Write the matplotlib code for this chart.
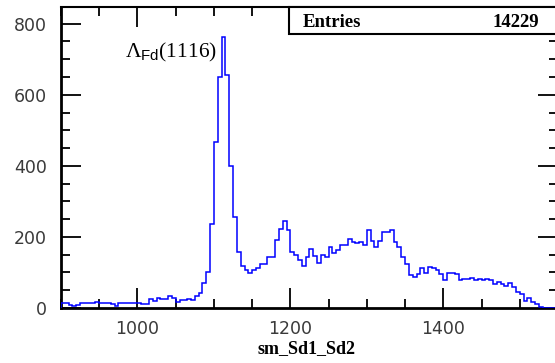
import numpy as np
import matplotlib
matplotlib.use("Agg")
import matplotlib.pyplot as plt
from matplotlib.patches import Rectangle
from matplotlib.ticker import MultipleLocator

# histogram: 130 bins of width 5 from 900 to 1550
bin_lo = 900
bin_w = 5
counts = [
    14, 15, 8, 7, 8, 15, 15, 15, 15, 17,
    15, 14, 15, 11, 7, 13, 13, 15, 15, 15,
    15, 10, 10, 26, 21, 29, 26, 26, 33, 28,
    18, 23, 23, 25, 23, 34, 43, 69, 100, 237,
    466, 650, 762, 656, 400, 255, 157, 118, 108, 99,
    106, 113, 125, 125, 144, 144, 192, 222, 244, 219,
    158, 150, 134, 117, 144, 166, 147, 128, 150, 144,
    172, 155, 162, 178, 178, 195, 185, 183, 185, 178,
    220, 188, 173, 188, 214, 214, 220, 185, 171, 144,
    125, 94, 86, 96, 113, 99, 115, 113, 108, 97,
    78, 99, 99, 96, 80, 83, 83, 85, 78, 81,
    78, 81, 78, 68, 73, 68, 61, 70, 58, 45,
    40, 21, 28, 18, 10, 3, 0, 0, 0, 0,
]
x_ticks = [1000, 1200, 1400]
y_ticks = [0, 200, 400, 600, 800]
entries = 14229
xlabel = "sm_Sd1_Sd2"

edges = bin_lo + bin_w * np.arange(len(counts) + 1)

plt.rcParams['mathtext.fontset'] = 'custom'
plt.rcParams['mathtext.rm'] = 'Liberation Serif'
plt.rcParams['mathtext.sf'] = 'Liberation Sans'
plt.rcParams['mathtext.it'] = 'Liberation Serif:italic'

W, H = 555, 363
fig = plt.figure(figsize=(W / 100, H / 100), dpi=100)
ax = fig.add_axes([61 / W, 55 / H, 497 / W, 301 / H])

ax.stairs(counts, edges, color='#0000ff', lw=1.1, zorder=3)

ax.set_xlim(900, 1550)
ax.set_ylim(0, 847)

ax.xaxis.set_minor_locator(MultipleLocator(50))
ax.yaxis.set_minor_locator(MultipleLocator(50))
ax.set_xticks(x_ticks)
ax.set_xticklabels([str(v) for v in x_ticks])
ax.set_yticks(y_ticks)
ax.set_yticklabels([str(v) for v in y_ticks])

ax.tick_params(which='both', direction='in', top=True, right=True, width=1.3, color='black')
ax.tick_params(which='major', length=14.5, labelsize=12.5, labelcolor='#3a3a3a')
ax.tick_params(axis='x', which='major', pad=9)
ax.tick_params(axis='y', which='major', pad=10)
ax.tick_params(which='minor', length=6.5)

for side in ['left', 'bottom']:
    ax.spines[side].set_linewidth(2)
ax.spines['top'].set_linewidth(1.5)
ax.spines['right'].set_linewidth(1.5)

# peak label
ax.text(984, 704, r'$\mathrm{\Lambda}_{\mathsf{Fd}}\mathrm{(1116)}$', fontsize=15.5,
        va='baseline', ha='left', color='black')

# stats box
box = Rectangle((289 / W, 1 - 33.5 / H), (W - 289) / W + 0.05, 26.5 / H,
                transform=fig.transFigure, facecolor='white', edgecolor='black',
                lw=1.5, zorder=1)
fig.patches.append(box)
fig.text(303 / W, 1 - 27 / H, 'Entries', family='Liberation Serif', weight='bold',
         fontsize=13.5, va='baseline', ha='left')
fig.text(539 / W, 1 - 27 / H, str(entries), family='Liberation Serif', weight='bold',
         fontsize=13.5, va='baseline', ha='right')

fig.text(306 / W, 1 - 349 / H, xlabel, family='Liberation Serif', weight='bold',
         fontsize=13, va='center', ha='center')

fig.savefig('out.png', dpi=100)
